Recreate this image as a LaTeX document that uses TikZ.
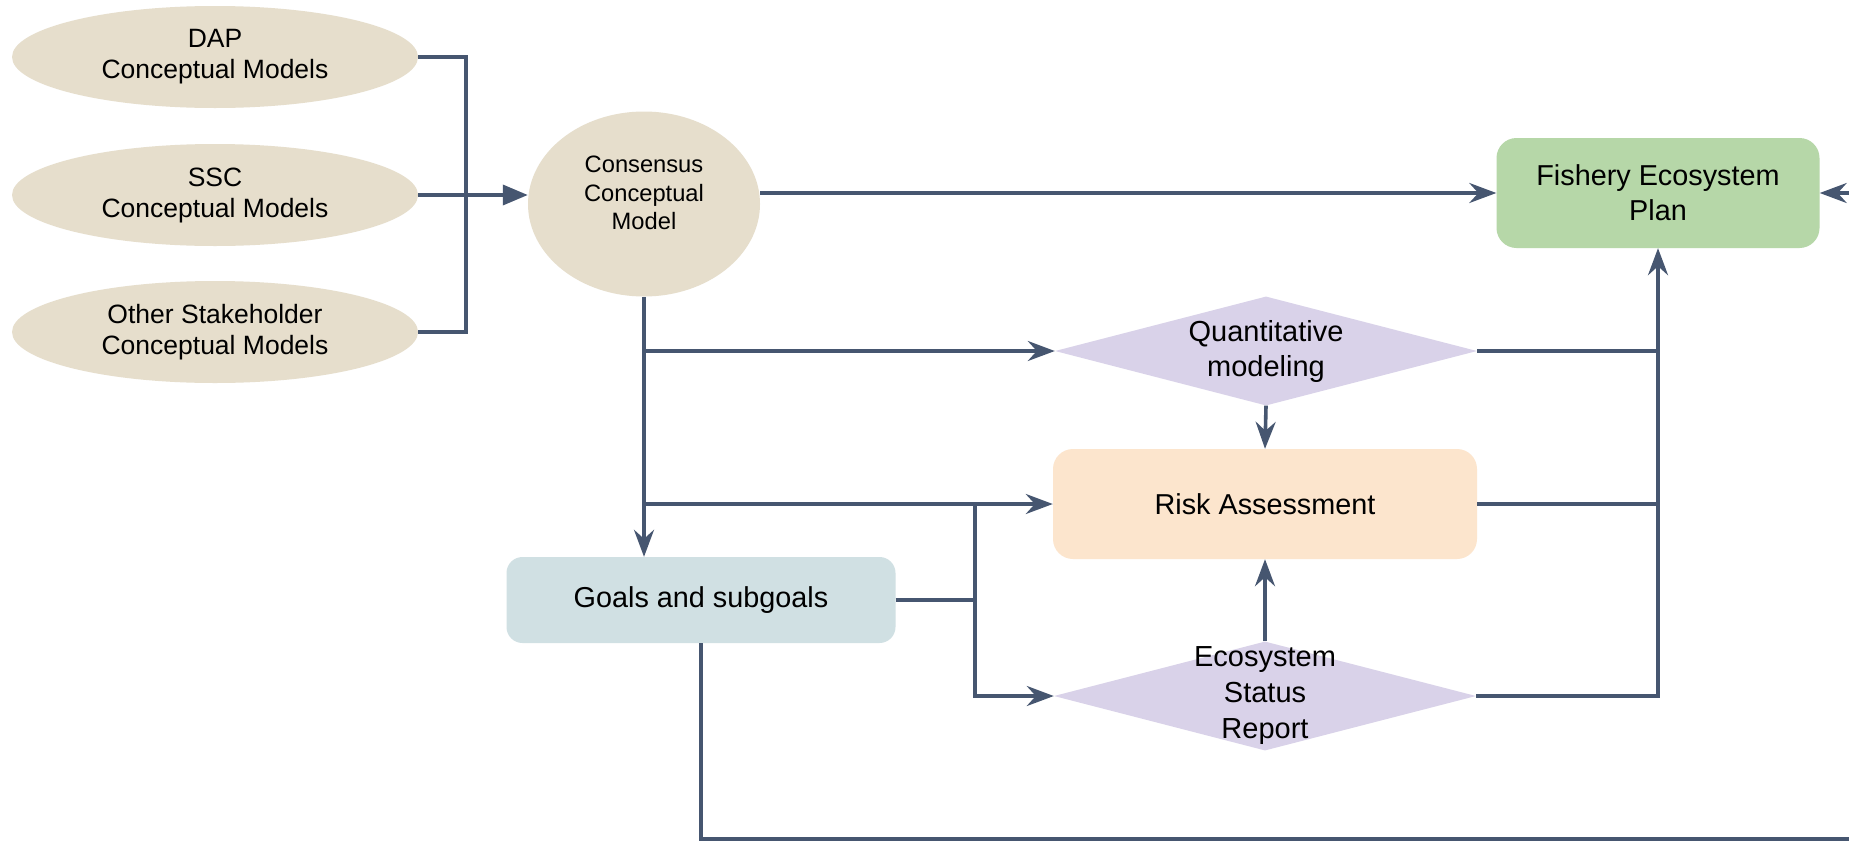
\documentclass[tikz,border=0pt]{standalone}
\usepackage{fontspec}
\setmainfont{Liberation Sans}
\usetikzlibrary{shapes.geometric,arrows.meta}
\definecolor{linec}{HTML}{465670}
\definecolor{beige}{HTML}{E6DECC}
\definecolor{lilac}{HTML}{D9D2E9}
\definecolor{peach}{HTML}{FCE5CD}
\definecolor{fepgreen}{HTML}{B6D7A8}
\definecolor{goalblue}{HTML}{D0E0E3}
\tikzset{
  srcell/.style={ellipse, fill=beige, minimum width=406pt, minimum height=102pt, inner sep=0pt, align=center, font=\fontsize{26.5}{31}\selectfont},
  boxr/.style={rounded corners=20pt, inner sep=0pt, align=center, font=\fontsize{28.8}{35}\selectfont},
  dia/.style={diamond, fill=lilac, minimum width=422pt, minimum height=109pt, inner sep=0pt},
  ttext/.style={align=center, inner sep=0pt},
  conn/.style={draw=linec, line width=3.6pt},
  arr/.style={conn, -{Stealth[length=27pt,width=20pt,inset=9pt]}},
  tarr/.style={conn, -{Triangle[length=25pt,width=20pt]}}
}
\begin{document}
\begin{tikzpicture}[x=1pt,y=-1pt]
\useasboundingbox (0,0) rectangle (1849,841);
\clip (0,0) rectangle (1849,841);
\fill[white] (0,0) rectangle (1849,841);
% source ellipses
\node[srcell] (dap) at (215,57) {DAP\\Conceptual Models};
\node[srcell] (ssc) at (215,195) {SSC\\Conceptual Models};
\node[srcell] (oth) at (215,332) {Other Stakeholder\\Conceptual Models};
% consensus
\node[ellipse, fill=beige, minimum width=232pt, minimum height=185pt, inner sep=0pt] (cons) at (644,204) {};
\node[ttext, font=\fontsize{23.7}{28.5}\selectfont] (conslbl) at (644,193) {Consensus\\Conceptual\\Model};
% FEP
\node[boxr, fill=fepgreen, minimum width=323pt, minimum height=110pt] (fep) at (1658,193) {Fishery Ecosystem\\Plan};
% diamonds
\node[dia] (quant) at (1266,351) {};
\node[ttext, font=\fontsize{29}{35}\selectfont] (quantlbl) at (1266,351) {Quantitative\\modeling};
\node[dia] (esr) at (1265,696) {};
% risk
\node[boxr, fill=peach, minimum width=424pt, minimum height=110pt] (risk) at (1265,504) {Risk Assessment};
% goals
\node[boxr, fill=goalblue, minimum width=389pt, minimum height=86pt, rounded corners=16pt] (goals) at (701,600) {Goals and subgoals};
% junctions
\coordinate (j) at (466,194);
\coordinate (jv) at (975,504);
\coordinate (off) at (1866,839);
% connectors
\draw[conn] (dap.east) -| (j) |- (oth.east);
\draw[tarr] (ssc.east) -- (ssc.east -| cons.west);
\draw[arr] (cons.east |- fep.west) -- (fep.west);
\draw[arr] (cons.south) -- (cons.south |- goals.north);
\draw[arr] (cons.south |- quant.west) -- (quant.west);
\draw[arr] (cons.south |- risk.west) -- (risk.west);
\draw[conn] (goals.east) -- (goals.east -| jv);
\draw[arr] (jv) |- (esr.west);
\draw[arr] (quant.south) -- (risk.north);
\draw[arr] (esr.north) -- (risk.south);
\draw[conn] (quant.east) -- (quant.east -| fep.south);
\draw[conn] (risk.east) -- (risk.east -| fep.south);
\draw[arr] (esr.east) -| (fep.south);
\draw[arr] (goals.south) |- (off) |- (fep.east);
% ESR label on top of its connector
\node[ttext, font=\fontsize{29}{36}\selectfont] (esrlbl) at (1265,696) {Ecosystem\\Status\\Report};
\end{tikzpicture}
\end{document}
